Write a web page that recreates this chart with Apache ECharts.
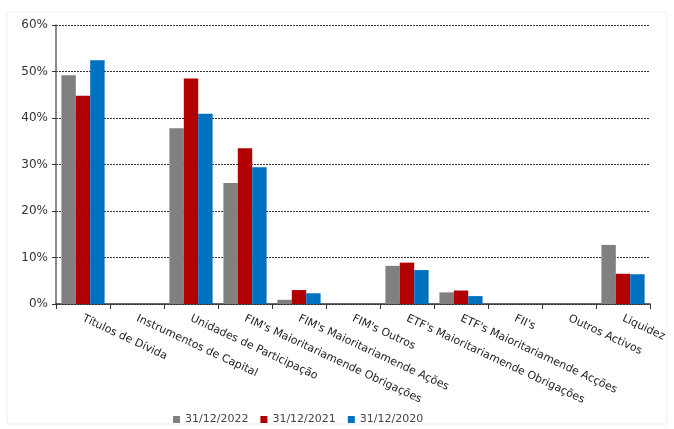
<!DOCTYPE html>
<html>
<head>
<meta charset="utf-8">
<script src="https://cdn.jsdelivr.net/npm/echarts@6/dist/echarts.min.js"></script>
<style>
  html, body { margin: 0; padding: 0; background: #fff; }
  #chart { width: 674px; height: 429px; }
</style>
</head>
<body>
<div id="chart"></div>
<script>
// categorias e valores (%)
var categorias = [
  'Títulos de Dívida',
  'Instrumentos de Capital',
  'Unidades de Participação',
  "FIM's Maioritariamende Obrigações",
  "FIM's Maioritariamende Ações",
  "FIM's Outros",
  "ETF's Maioritariamende Obrigações",
  "ETF's Maioritariamende Acções",
  "FII's",
  'Outros Activos',
  'Liquidez'
];
var series2022 = [49.2, 0, 37.8, 26.0, 0.9, 0, 8.2, 2.5, 0, 0, 12.7];
var series2021 = [44.8, 0, 48.5, 33.5, 3.0, 0, 8.9, 2.9, 0, 0, 6.5];
var series2020 = [52.4, 0, 40.9, 29.4, 2.3, 0, 7.3, 1.7, 0, 0, 6.4];
var nomes = ['31/12/2022', '31/12/2021', '31/12/2020'];
var cores = ['#808080', '#b00000', '#0070c0'];

var chart = echarts.init(document.getElementById('chart'));

var fonte = 'DejaVu Sans';

function serie(i, dados) {
  return {
    name: nomes[i],
    type: 'bar',
    data: dados,
    barGap: '0%',
    barCategoryGap: '20%',
    itemStyle: { color: cores[i] }
  };
}

var option = {
  animation: false,
  textStyle: { fontFamily: fonte },
  grid: { left: 56, right: 24, top: 25, bottom: 125, containLabel: false },
  legend: {
    bottom: -1,
    left: 168,
    icon: 'rect',
    itemWidth: 7,
    itemHeight: 7,
    itemGap: 12,
    itemStyle: { borderWidth: 0 },
    textStyle: { fontFamily: fonte, fontSize: 11, color: '#444' },
    data: nomes
  },
  xAxis: {
    type: 'category',
    data: categorias,
    axisLine: { lineStyle: { color: '#333', width: 1.5 } },
    axisTick: { show: true, alignWithLabel: false, length: 5, lineStyle: { color: '#333' } },
    axisLabel: {
      interval: 0,
      rotate: -25,
      margin: 14,
      fontFamily: fonte,
      fontSize: 11,
      color: '#222'
    }
  },
  yAxis: {
    type: 'value',
    min: 0,
    max: 60,
    interval: 10,
    axisLine: { show: true, lineStyle: { color: '#666', width: 1.5 } },
    axisTick: { show: true, length: 4, lineStyle: { color: '#333' } },
    axisLabel: {
      formatter: '{value}%',
      fontFamily: fonte,
      fontSize: 12,
      color: '#333',
      margin: 8
    },
    splitLine: { lineStyle: { color: '#333', type: [2, 1], width: 1 } }
  },
  graphic: [{
    type: 'rect',
    shape: { x: 7, y: 12, width: 660, height: 412 },
    style: { fill: 'none', stroke: '#eeeeee', lineWidth: 1 },
    silent: true,
    z: -1
  }],
  series: [
    serie(0, series2022),
    serie(1, series2021),
    serie(2, series2020)
  ]
};

chart.setOption(option);
</script>
</body>
</html>
